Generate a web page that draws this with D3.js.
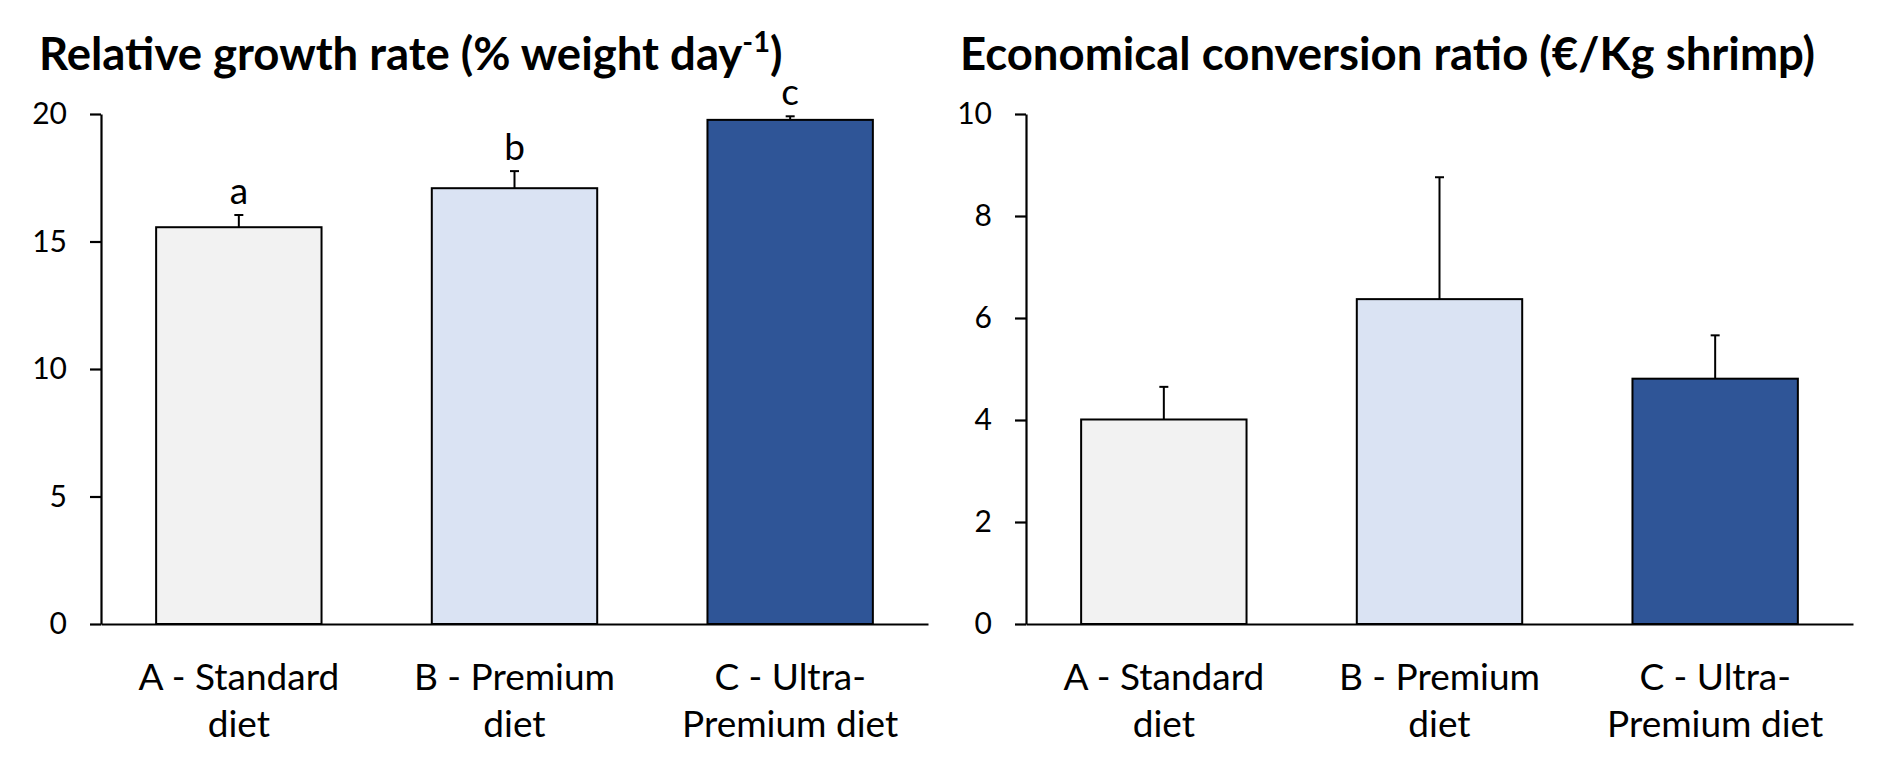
<!DOCTYPE html>
<html>
<head>
<meta charset="utf-8">
<script src="https://cdn.jsdelivr.net/npm/d3@7"></script>
<style>
  html, body { margin: 0; padding: 0; background: #fff; }
  svg { display: block; }
  text { font-family: Lato, "Open Sans", sans-serif; fill: #000; }
</style>
</head>
<body>
<svg id="chart" width="1890" height="769"></svg>
<script>
// ---- Data ----
const categories = ["A - Standard diet", "B - Premium diet", "C - Ultra-Premium diet"];
const categoryLines = [["A - Standard", "diet"], ["B - Premium", "diet"], ["C - Ultra-", "Premium diet"]];
const barColors = ["#f2f2f2", "#dae3f3", "#2f5597"];

const growthValues = [15.56, 17.09, 19.77];
const growthErrors = [0.48, 0.67, 0.14];
const growthLetters = ["a", "b", "c"];
const growthTicks = [0, 5, 10, 15, 20];

const ecrValues = [4.01, 6.37, 4.81];
const ecrErrors = [0.64, 2.39, 0.85];
const ecrLetters = ["", "", ""];
const ecrTicks = [0, 2, 4, 6, 8, 10];

const svg = d3.select("#chart");

function panel(opts) {
  const { x0, x1, yTop, yBottom, values, errors, letters, ticks, yMax, title, titleSup, titleX } = opts;
  const g = svg.append("g");

  const x = d3.scaleBand().domain(categories).range([x0, x1]).paddingInner(0.4).paddingOuter(0.2);
  const y = d3.scaleLinear().domain([0, yMax]).range([yBottom, yTop]);

  // Title
  const t = g.append("text")
    .attr("x", titleX).attr("y", 70)
    .attr("font-size", 45.5).attr("font-weight", 700)
    .text(title);
  if (titleSup) {
    t.append("tspan").attr("font-size", 29).attr("dy", -18).text(titleSup);
    t.append("tspan").attr("dy", 18).text(")");
  }

  // Bars
  const data = categories.map((c, i) => ({ c, v: values[i], e: errors[i], l: letters[i], col: barColors[i] }));
  g.selectAll("rect.bar").data(data).join("rect")
    .attr("class", "bar")
    .attr("x", d => x(d.c))
    .attr("width", x.bandwidth())
    .attr("y", d => y(d.v))
    .attr("height", d => y(0) - y(d.v))
    .attr("fill", d => d.col)
    .attr("stroke", "#000")
    .attr("stroke-width", 2);

  // Error bars (upper only)
  const cx = d => x(d.c) + x.bandwidth() / 2;
  g.selectAll("line.err").data(data).join("line")
    .attr("class", "err")
    .attr("x1", cx).attr("x2", cx)
    .attr("y1", d => y(d.v)).attr("y2", d => y(d.v + d.e))
    .attr("stroke", "#000").attr("stroke-width", 2);
  g.selectAll("line.cap").data(data).join("line")
    .attr("class", "cap")
    .attr("x1", d => cx(d) - 4.5).attr("x2", d => cx(d) + 4.5)
    .attr("y1", d => y(d.v + d.e)).attr("y2", d => y(d.v + d.e))
    .attr("stroke", "#000").attr("stroke-width", 2);

  // Significance letters
  g.selectAll("text.sig").data(data.filter(d => d.l)).join("text")
    .attr("class", "sig")
    .attr("x", cx)
    .attr("y", d => y(d.v + d.e) - 11)
    .attr("text-anchor", "middle")
    .attr("font-size", 37)
    .text(d => d.l);

  // Y axis
  const ya = g.append("g")
    .attr("transform", `translate(${x0},0)`)
    .call(d3.axisLeft(y).tickValues(ticks).tickSize(11).tickSizeOuter(0).tickPadding(23));
  ya.selectAll("path, line").attr("stroke", "#000").attr("stroke-width", 2.2);
  ya.selectAll("text").attr("font-size", 30).attr("font-family", "Lato, sans-serif").attr("fill", "#000");

  // X axis
  const xa = g.append("g")
    .attr("transform", `translate(0,${yBottom})`)
    .call(d3.axisBottom(x).tickSize(0).tickSizeOuter(0).tickFormat(""));
  xa.select("path").attr("stroke", "#000").attr("stroke-width", 2.2);
  xa.selectAll(".tick").each(function (d, i) {
    const tk = d3.select(this);
    tk.selectAll("text").remove();
    const lines = categoryLines[i];
    lines.forEach((ln, j) => {
      tk.append("text")
        .attr("x", 0).attr("y", 66 + j * 47)
        .attr("text-anchor", "middle")
        .attr("font-size", 37)
        .attr("font-family", "Lato, sans-serif")
        .attr("fill", "#000")
        .text(ln);
    });
  });
}

panel({
  x0: 101, x1: 928, yTop: 114, yBottom: 624,
  values: growthValues, errors: growthErrors, letters: growthLetters,
  ticks: growthTicks, yMax: 20,
  title: "Relative growth rate (% weight day", titleSup: "-1", titleX: 39
});

panel({
  x0: 1026, x1: 1853, yTop: 114, yBottom: 624,
  values: ecrValues, errors: ecrErrors, letters: ecrLetters,
  ticks: ecrTicks, yMax: 10,
  title: "Economical conversion ratio (€/Kg shrimp)", titleSup: null, titleX: 960
});
</script>
</body>
</html>
